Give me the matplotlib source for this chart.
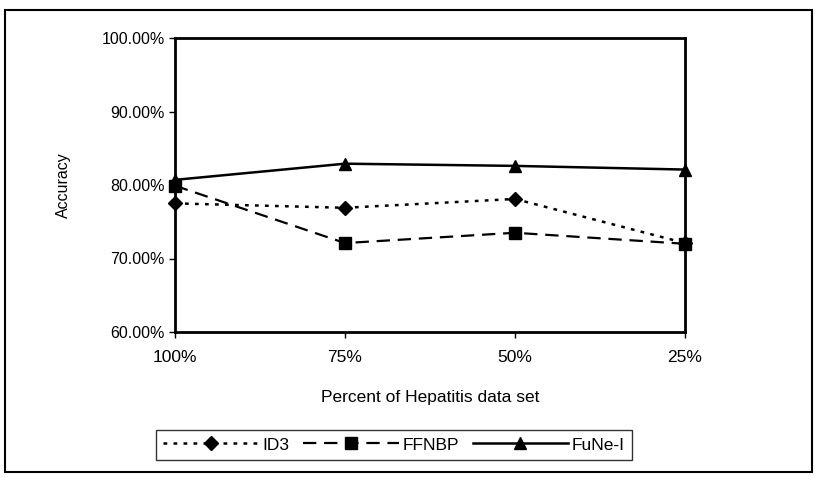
import matplotlib
matplotlib.use("Agg")
import matplotlib.pyplot as plt
from matplotlib.patches import Rectangle
from matplotlib.ticker import FuncFormatter

categories = ["100%", "75%", "50%", "25%"]
id3 = [77.5, 76.9, 78.1, 72.1]
ffnbp = [79.9, 72.1, 73.5, 72.0]
fune = [80.7, 82.9, 82.6, 82.1]
yticks = [60, 70, 80, 90, 100]

plt.rcParams['font.family'] = ['Liberation Sans', 'DejaVu Sans']

fig = plt.figure(figsize=(8.15, 4.78), dpi=100)
ax = fig.add_axes([175/815, 1-332/478, (685-175)/815, (332-38)/478])

x = list(range(len(categories)))
ax.plot(x, id3, linestyle=(0, (1.5, 2.5)), color='black', lw=1.8, marker='D', ms=7,
        label='ID3', clip_on=False, zorder=3)
ax.plot(x, ffnbp, linestyle=(0, (6, 3.5)), color='black', lw=1.6, marker='s', ms=9,
        label='FFNBP', clip_on=False, zorder=3)
ax.plot(x, fune, linestyle='-', color='black', lw=1.8, marker='^', ms=9,
        label='FuNe-I', clip_on=False, zorder=3)

ax.set_xlim(0, len(categories) - 1)
ax.set_ylim(60, 100)
ax.set_xticks(x)
ax.set_xticklabels(categories)
ax.set_yticks(yticks)
ax.yaxis.set_major_formatter(FuncFormatter(lambda v, p: f"{v:.2f}%"))
ax.tick_params(axis='y', labelsize=11.5, direction='out', length=4, width=1)
ax.tick_params(axis='x', labelsize=12.5, direction='out', length=4, width=1, pad=9)
for s in ax.spines.values():
    s.set_linewidth(2)
ax.set_ylabel("Accuracy", fontsize=11.5, labelpad=22)
ax.set_xlabel("Percent of Hepatitis data set", fontsize=12.5, labelpad=18)

leg = fig.legend(loc='center', bbox_to_anchor=(394/815, 1-445/478), ncol=3,
                 fontsize=12.5, frameon=True, fancybox=False, edgecolor='black',
                 handlelength=5.5, handletextpad=0.2, columnspacing=0.8,
                 borderpad=0.45)
leg.get_frame().set_linewidth(1)

fig.patches.append(Rectangle((5/815, 1-472/478), (812-5)/815, (472-10)/478,
                             transform=fig.transFigure, fill=False,
                             edgecolor='black', lw=1.5))

fig.savefig("out.png", dpi=100)
